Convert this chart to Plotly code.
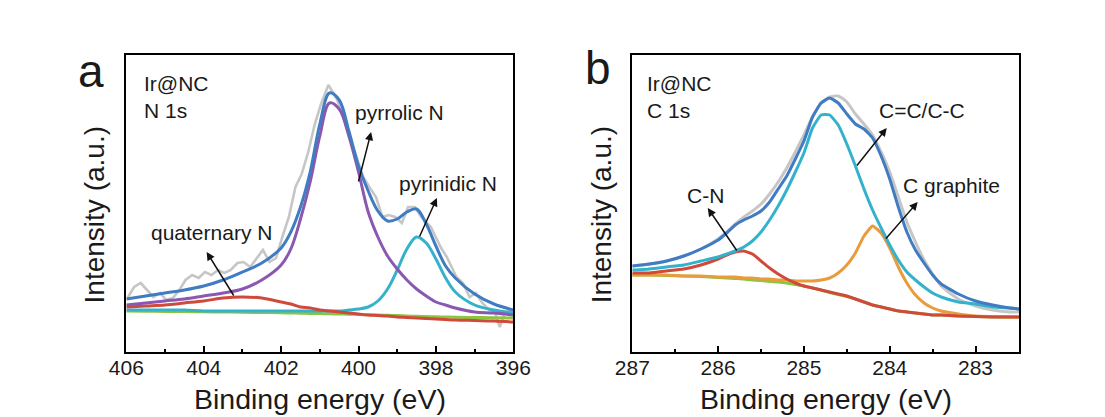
import plotly.graph_objects as go

# ---------------- Panel a : N 1s ----------------
energy_a = [406, 405.5, 405, 404.5, 404, 403.5, 403, 402.5, 402, 401.75, 401.5, 401.25, 401,
            400.75, 400.5, 400.25, 400, 399.75, 399.5, 399.25, 399, 398.75, 398.5, 398.25,
            398, 397.75, 397.5, 397, 396.5, 396]
envelope_a = [53, 56, 59, 62, 66, 72, 80, 89, 104, 120, 145, 180, 228,
              259, 252, 221, 186, 161, 141, 131, 133, 140, 143, 128,
              106, 86, 74, 58, 48, 42]
pyrrolic_a = [47, 49, 51, 53, 56, 59, 63, 72, 87, 103, 133, 170, 216,
              249, 243, 216, 180, 140, 115, 96, 83, 72, 63, 56,
              50, 47, 44, 40, 39, 37]
pyridinic_a = [42, 42, 42, 42, 41, 41, 41, 41, 41, 41, 41, 41, 41,
               41, 41, 42, 43, 45, 51, 63, 82, 103, 115, 109,
               93, 74, 60, 47, 42, 39]
quaternary_a = [45, 46, 47, 49, 51, 54, 55, 54, 50, 48, 45, 44, 42,
                41, 40, 39, 38, 37, 36.5, 36, 35, 34.5, 34, 33.5,
                33, 32.5, 32, 31.5, 31, 30]
background_a = [41, 40.8, 40.6, 40.4, 40.2, 40, 39.8, 39.5, 39.2, 39, 38.8, 38.6, 38.4,
                38.2, 38, 37.8, 37.5, 37.2, 37, 36.7, 36.4, 36, 35.7, 35.4,
                35.2, 35, 34.8, 34.5, 34.2, 34]

raw_energy_a = [405.97, 405.8, 405.63, 405.47, 405.3, 405.13, 404.97, 404.8, 404.63, 404.47,
                404.3, 404.13, 403.97, 403.8, 403.63, 403.47, 403.3, 403.13, 402.97, 402.8,
                402.63, 402.47, 402.3, 402.13, 401.97, 401.8, 401.63, 401.47, 401.3, 401.13,
                400.97, 400.85, 400.78, 400.7, 400.55, 400.4, 400.22, 400.05, 399.88, 399.72,
                399.55, 399.38, 399.22, 399.05, 398.88, 398.72, 398.55, 398.38, 398.13, 397.88,
                397.72, 397.47, 397.3, 397.13, 396.97, 396.8, 396.63, 396.47, 396.35, 396.22,
                396.05]
raw_a = [54, 65, 69, 62, 55, 59, 52, 54, 62, 72,
         77, 74, 80, 77, 82, 79, 82, 89, 90, 85,
         94, 102, 90, 94, 115, 135, 165, 178, 200, 228,
         248, 260, 267, 262, 252, 236, 215, 195, 175, 165,
         155, 135, 137, 135, 129, 145, 145, 135, 125, 105,
         95, 75, 69, 55, 59, 49, 42, 39, 25, 39,
         42]

# ---------------- Panel b : C 1s ----------------
energy_b = [287, 286.8, 286.6, 286.4, 286.2, 286, 285.9, 285.8, 285.7, 285.6, 285.5, 285.4,
            285.3, 285.2, 285.1, 285, 284.9, 284.8, 284.7, 284.6, 284.5, 284.4, 284.3, 284.2,
            284.1, 284, 283.9, 283.8, 283.7, 283.6, 283.5, 283.4, 283.2, 283, 282.8, 282.6, 282.49]
envelope_b = [86, 88, 91, 96, 103, 112, 119, 127, 132, 136, 141, 150,
              163, 176, 193, 211, 235, 249, 254, 249, 238, 228, 223, 214,
              196, 173, 145, 120, 102, 89, 77, 68, 58, 51, 47, 44, 43]
raw_b = [86, 88, 91, 96, 103, 113, 120, 128, 135, 141, 148, 158,
         170, 184, 200, 217, 235, 249, 255, 256, 250, 238, 228, 217,
         200, 180, 155, 130, 110, 92, 78, 66, 53, 46, 42, 40, 40]
cc_b = [82, 83, 85, 87, 91, 95, 98, 101, 105, 111, 120, 132,
        146, 162, 180, 199, 224, 237, 237, 227, 208, 186, 163, 142,
        124, 107, 92, 80, 72, 65, 59, 55, 50, 48, 45, 44, 43]
cn_b = [79, 79, 81, 83, 87, 93, 97, 100, 101, 98, 91, 84,
        78, 73, 69, 66, 64, 62, 60, 58, 56, 53, 50, 47,
        45, 43, 41, 40, 39, 38, 37, 37, 36, 35.5, 35, 35, 35]
graphite_b = [77, 77, 77, 76, 76, 75, 75, 75, 74, 74, 73, 73,
              72, 72, 71, 71, 71, 72, 74, 79, 87, 99, 116, 126,
              119, 104, 85, 69, 57, 49, 44, 41, 38, 36, 35.5, 35, 35]
background_b = [77, 77, 76.5, 76, 75.5, 74.5, 74, 73.5, 73, 72, 71.5, 70.5,
                70, 69, 67.5, 66, 64, 62, 59.5, 57.5, 55.5, 53, 50, 47,
                45, 43, 41, 40, 39, 38, 37, 37, 36, 35.5, 35, 35, 35]

# ---------------- styling ----------------
W, H = 1105, 417
FONT = "Liberation Sans, Arial, Helvetica, sans-serif"
TXT = "#1a1a1a"
C_BLUE = "#3f7cc1"
C_PURPLE = "#8a58b1"
C_CYAN = "#35b2cb"
C_RED = "#d04a3c"
C_GREEN = "#8cc540"
C_ORANGE = "#e99b3d"
C_GRAY = "#c6c6c6"


def px(x):
    return x / W


def py(y):
    return 1 - y / H


fig = go.Figure()

# panel a traces
fig.add_trace(go.Scatter(x=raw_energy_a, y=raw_a, mode="lines",
                         line=dict(color=C_GRAY, width=2.6), xaxis="x", yaxis="y"))
for yy, col in [(background_a, C_GREEN), (pyridinic_a, C_CYAN), (quaternary_a, C_RED),
                (pyrrolic_a, C_PURPLE), (envelope_a, C_BLUE)]:
    fig.add_trace(go.Scatter(x=energy_a, y=yy, mode="lines",
                             line=dict(color=col, width=3, shape="spline", smoothing=1.0),
                             xaxis="x", yaxis="y"))

# panel b traces
fig.add_trace(go.Scatter(x=energy_b, y=raw_b, mode="lines",
                         line=dict(color=C_GRAY, width=3, shape="spline", smoothing=0.6),
                         xaxis="x2", yaxis="y2"))
for yy, col in [(background_b, C_GREEN), (graphite_b, C_ORANGE), (cn_b, C_RED),
                (cc_b, C_CYAN), (envelope_b, C_BLUE)]:
    fig.add_trace(go.Scatter(x=energy_b, y=yy, mode="lines",
                             line=dict(color=col, width=3, shape="spline", smoothing=0.4),
                             xaxis="x2", yaxis="y2"))

y_dom = [py(352), py(55)]
common_x = dict(showline=True, mirror=True, linecolor="black", linewidth=1.6,
                showgrid=False, zeroline=False, ticks="inside", ticklen=6, tickwidth=1.5,
                tickcolor="black", tickfont=dict(family=FONT, size=21, color=TXT),
                tickmode="linear", ticklabelstandoff=-4)
common_y = dict(showline=True, mirror=True, linecolor="black", linewidth=1.6,
                showgrid=False, zeroline=False, showticklabels=False, ticks="",
                range=[0, 297])

fig.update_layout(
    width=W, height=H, margin=dict(l=0, r=0, t=0, b=0),
    paper_bgcolor="white", plot_bgcolor="white", showlegend=False,
    xaxis=dict(domain=[px(112), px(512)], range=[406, 396], tick0=396, dtick=2,
               minor=dict(ticks="inside", ticklen=3.5, dtick=1, tick0=396,
                          tickcolor="black", tickwidth=1.5),
               **common_x),
    yaxis=dict(domain=y_dom, anchor="x", **common_y),
    xaxis2=dict(domain=[px(635), px(1035)], range=[287, 282.49], tick0=283, dtick=1,
                minor=dict(ticks="inside", ticklen=3.5, dtick=0.5, tick0=283,
                           tickcolor="black", tickwidth=1.5),
                anchor="y2", **common_x),
    yaxis2=dict(domain=y_dom, anchor="x2", **common_y),
)

ann = []


def text(x, y, s, size, xanchor="center", yanchor="middle", angle=0):
    ann.append(dict(x=px(x), y=py(y), xref="paper", yref="paper", text=s, showarrow=False,
                    xanchor=xanchor, yanchor=yanchor, textangle=angle,
                    font=dict(family=FONT, size=size, color=TXT)))


def arrow(tx, ty, hx, hy):
    ann.append(dict(x=px(hx), y=py(hy), xref="paper", yref="paper", text="",
                    showarrow=True, ax=tx - hx, ay=ty - hy, axref="pixel", ayref="pixel",
                    arrowhead=2, arrowsize=1.1, arrowwidth=1.5, arrowcolor="#111", standoff=0))


# panel letters
text(75, 71, "a", 46)
text(600, 68, "b", 46)
# axis titles
text(312, 399, "Binding energy (eV)", 28.5)
text(835, 399, "Binding energy (eV)", 28.5)
text(79, 215, "Intensity (a.u.)", 28, angle=-90)
text(603, 215, "Intensity (a.u.)", 28, angle=-90)
# sample labels
text(128, 83, "Ir@NC", 21, xanchor="left")
text(128, 110, "N 1s", 21, xanchor="left")
text(648, 83, "Ir@NC", 21, xanchor="left")
text(648, 110, "C 1s", 21, xanchor="left")
# peak labels
text(394, 112, "pyrrolic N", 21)
text(444, 184, "pyrinidic N", 21)
text(200, 232, "quaternary N", 21)
text(934, 110, "C=C/C-C", 21)
text(965, 185, "C graphite", 21)
text(711, 195, "C-N", 21)
# arrows
arrow(352, 183, 365, 132)
arrow(415, 238, 433, 198)
arrow(223, 297, 195, 252)
arrow(867, 167, 898, 128)
arrow(897, 240, 930, 202)
arrow(743, 252, 713, 208)

fig.update_layout(annotations=ann)

fig.write_html("out.html", post_script="document.body.style.margin='0';")
